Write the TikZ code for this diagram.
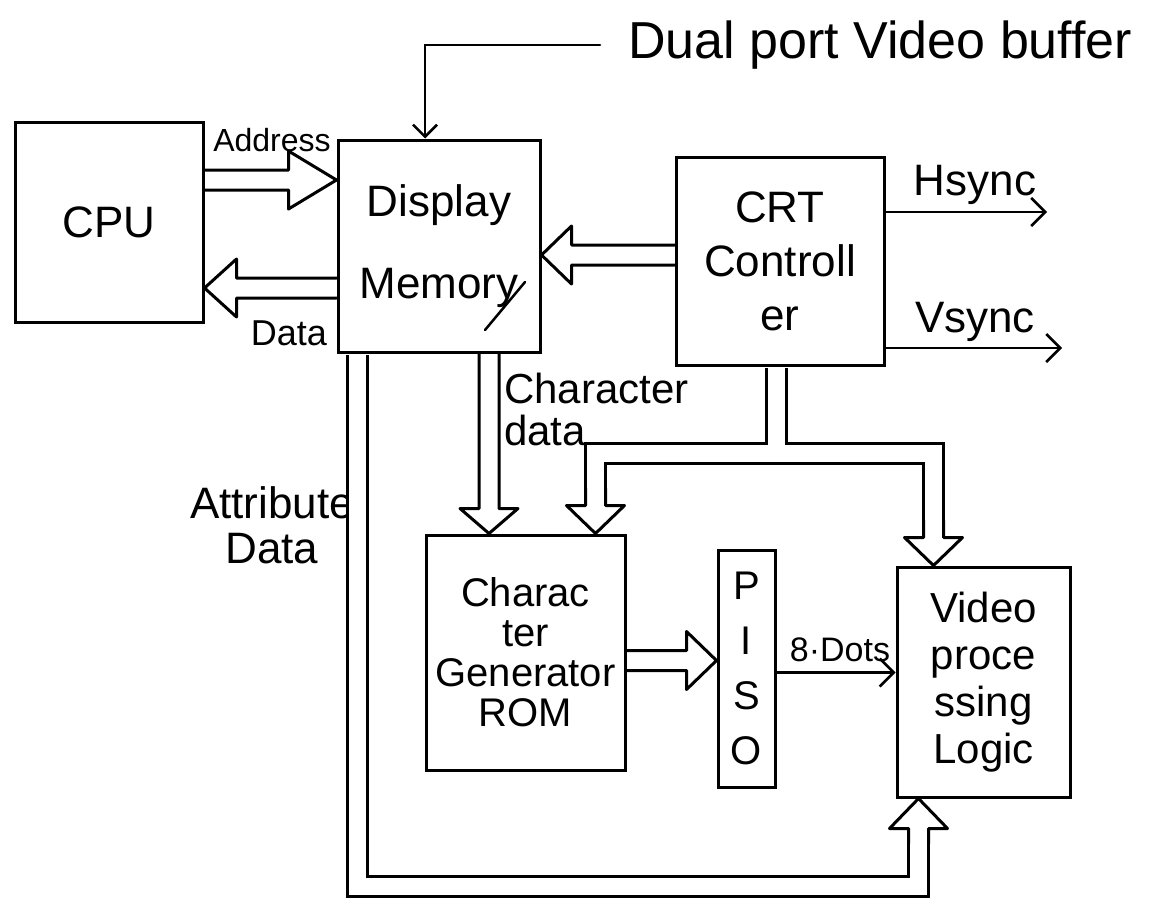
\documentclass[tikz,border=0pt]{standalone}
\usepackage{fontspec}
\setmainfont{Liberation Sans}
\usetikzlibrary{arrows.meta,calc,positioning}

\begin{document}
\begin{tikzpicture}[
  x=1pt, y=-1pt,
  box/.style={draw, line width=3pt, inner sep=0pt, align=center},
  lbl/.style={inner sep=0pt},
  sig/.style={line width=2.5pt, line cap=round, -{Straight Barb[length=14pt, width=28pt]}},
  busline/.style={double, double distance=17pt, line width=3pt},
  bus/.style={line width=3pt, line join=round, line cap=round, to path={
    ($(\tikztostart)!10pt!90:(\tikztotarget)$)
    -- ($(\tikztotarget)!#1!(\tikztostart)!10pt!-90:(\tikztostart)$)
    -- ($(\tikztotarget)!#1!(\tikztostart)!29pt!-90:(\tikztostart)$)
    -- (\tikztotarget)
    -- ($(\tikztotarget)!#1!(\tikztostart)!29pt!90:(\tikztostart)$)
    -- ($(\tikztotarget)!#1!(\tikztostart)!10pt!90:(\tikztostart)$)
    -- ($(\tikztostart)!10pt!-90:(\tikztotarget)$)}},
  bus/.default=32pt,
]
\useasboundingbox (0,0) rectangle (1172,902);

% Blocks
\node[box, minimum width=188pt, minimum height=200pt, font=\fontsize{44}{52}\selectfont] (cpu) at (109,222) {CPU};
\node[box, minimum width=202pt, minimum height=212pt, font=\fontsize{44}{82}\selectfont] (dispmem) at (439,246) {Display\\Memory};
\node[box, minimum width=208pt, minimum height=208pt, font=\fontsize{44}{54}\selectfont] (crt) at (780,261) {CRT\\Controll\\er};
\node[box, minimum width=199pt, minimum height=235pt, font=\fontsize{40}{40}\selectfont] (rom) at (525.5,652.5) {Charac\\ter\\Generator\\ROM};
\node[box, minimum width=57pt, minimum height=237pt, font=\fontsize{40}{55}\selectfont] (piso) at (746.5,668.5) {P\\I\\S\\O};
\node[box, minimum width=173pt, minimum height=230pt, font=\fontsize{42}{47}\selectfont] (vpl) at (983.5,682) {Video\\proce\\ssing\\Logic};

% Labels
\node[lbl, anchor=west, font=\fontsize{52}{60}\selectfont] (dpvb) at (628,45) {Dual port Video buffer};
\node[lbl, font=\fontsize{32}{36}\selectfont] (addrlbl) at (272,140) {Address};
\node[lbl, font=\fontsize{36}{40}\selectfont] (datalbl) at (289,333) {Data};
\node[lbl, font=\fontsize{44}{50}\selectfont] (hslbl) at (975,185) {Hsync};
\node[lbl, font=\fontsize{44}{50}\selectfont] (vslbl) at (975,322) {Vsync};
\node[lbl, anchor=north west, align=left, font=\fontsize{42}{42}\selectfont] (chlbl) at (504,373) {Character\\data};
\node[lbl, align=center, font=\fontsize{44}{45}\selectfont] (attrlbl) at (272,525) {Attribute\\Data};
\node[lbl, font=\fontsize{34}{40}\selectfont] (dotslbl) at (840,650) {8·Dots};

\coordinate (hsend) at (1047,212);
\coordinate (vsend) at (1062,348);

% Buses
\draw[bus=48pt] ([yshift=42pt]cpu.east) to ([yshift=42pt]cpu.east -| dispmem.west);
\draw[bus] ([yshift=-42pt]dispmem.west) to ([yshift=-42pt]dispmem.west -| cpu.east);
\draw[bus=30pt] ([yshift=6pt]crt.west) to ([yshift=6pt]crt.west -| dispmem.east);
\draw[bus=25pt] ([xshift=50pt]dispmem.south) to ([xshift=50pt]dispmem.south |- rom.north);
\draw[bus=30pt] ([yshift=-8pt]rom.east) to ([yshift=-8pt]rom.east -| piso.west);

% CRT controller bus, split to ROM and video logic
\path ([xshift=-4pt]crt.south) ++(0,87) coordinate (split);
\draw[busline, shorten <=28pt, shorten >=28pt] ([xshift=70pt]rom.north) |- (split) -| ([xshift=-50pt]vpl.north);
\draw[busline, shorten <=1.5pt] ([xshift=-4pt]crt.south) -- ([yshift=8.5pt]split);
\draw[bus=28pt] ([xshift=70pt,yshift=45pt]rom.north) to ([xshift=70pt]rom.north);
\draw[bus=28pt] ([xshift=-50pt,yshift=45pt]vpl.north) to ([xshift=-50pt]vpl.north);

% Attribute data
\draw[busline, shorten <=1.5pt, shorten >=30pt] ([xshift=-82pt]dispmem.south) -- ++(0,533) -| ([xshift=-65pt]vpl.south);
\draw[bus=30pt] ([xshift=-65pt,yshift=-45pt]vpl.south) to ([xshift=-65pt]vpl.south);

% Signals
\draw[sig] ([yshift=-4pt]piso.east) -- ([yshift=-4pt]piso.east -| vpl.west);
\draw[sig] ([yshift=49pt]crt.east) -- (hsend);
\draw[sig] ([yshift=-87pt]crt.east) -- (vsend);
\draw[sig, -{Straight Barb[length=12pt, width=24pt]}] ([xshift=-28pt]dpvb.west) -| ([xshift=-14pt]dispmem.north);
\draw[line width=2.5pt, line cap=round] ($(dispmem.center)+(46,84)$) -- ++(40,-48);

\end{tikzpicture}
\end{document}
